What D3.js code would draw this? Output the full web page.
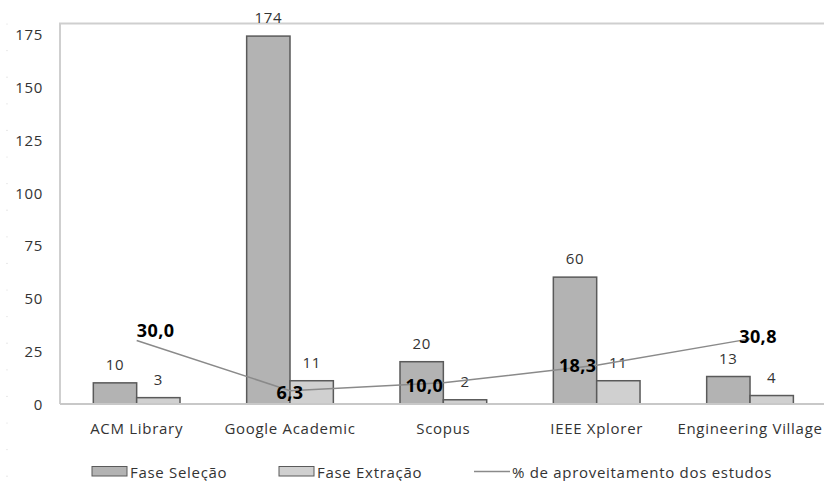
<!DOCTYPE html>
<html><head><meta charset="utf-8">
<script src="https://cdn.jsdelivr.net/npm/d3@7"></script>
<style>body{margin:0;background:#fff}svg{display:block}text{font-family:"Open Sans",sans-serif}.n{font-size:15px;letter-spacing:0.7px;fill:#333}</style>
</head><body>
<svg id="c" width="824" height="481"></svg>
<script>
const categories = ["ACM Library","Google Academic","Scopus","IEEE Xplorer","Engineering Village"];
const faseSelecao = [10,174,20,60,13];
const faseExtracao = [3,11,2,11,4];
const aproveitamento = [30.0,6.3,10.0,18.3,30.8];
const yTicks = [0,25,50,75,100,125,150,175];
const seriesNames = ["Fase Seleção","Fase Extração","% de aproveitamento dos estudos"];
// manual label placement (dx, dy) relative to line points
const labelOffsets = [[19,-11],[0,1],[-19,2],[-19,0],[8,-3]];

const svg = d3.select("#c");
const x = d3.scaleBand().domain(categories).range([60, 826.7]).paddingInner(0.4346).paddingOuter(0.2173);
const xs = d3.scaleBand().domain(["sel","ext"]).range([0, x.bandwidth()]);
const y = d3.scaleLinear().domain([0,180]).range([404, 23.4]);

// decorative dots at far left
svg.append("g").selectAll("circle").data(d3.range(18)).join("circle")
  .attr("cx",7).attr("cy",d=>24+26.6*d).attr("r",0.6).attr("fill","#d8d8d8");

// plot border (left + top)
svg.append("path").attr("d",`M60,404V${y(180)}H824`).attr("fill","none").attr("stroke","#cfcfcf").attr("stroke-width",2);

// y tick labels
svg.append("g").selectAll("text").data(yTicks).join("text").attr("class","n")
  .attr("x",43).attr("y",d=>y(d)).attr("text-anchor","end").attr("dominant-baseline","central")
  .text(d=>d);

// bars
const g = svg.append("g");
const bars = [{key:"sel",vals:faseSelecao,fill:"#b3b3b3"},{key:"ext",vals:faseExtracao,fill:"#d0d0d0"}];
bars.forEach(s=>{
  g.append("g").selectAll("rect").data(categories).join("rect")
    .attr("x",(c)=>x(c)+xs(s.key)).attr("y",(c,i)=>y(s.vals[i]))
    .attr("width",xs.bandwidth()).attr("height",(c,i)=>y(0)-y(s.vals[i]))
    .attr("fill",s.fill).attr("stroke","#5a5a5a").attr("stroke-width",1.5);
  g.append("g").selectAll("text").data(categories).join("text").attr("class","n")
    .attr("x",(c)=>x(c)+xs(s.key)+xs.bandwidth()/2).attr("y",(c,i)=>y(s.vals[i])-19)
    .attr("text-anchor","middle").attr("dominant-baseline","central")
    .text((c,i)=>s.vals[i]);
});

// x axis line
svg.append("line").attr("x1",60).attr("x2",824).attr("y1",y(0)).attr("y2",y(0)).attr("stroke","#c8c8c8").attr("stroke-width",2);

// category labels
svg.append("g").selectAll("text").data(categories).join("text").attr("class","n")
  .attr("x",c=>x(c)+x.bandwidth()/2).attr("y",428).attr("text-anchor","middle").attr("dominant-baseline","central")
  .text(c=>c);

// line
const cx = c=>x(c)+x.bandwidth()/2;
const line = d3.line().x((d,i)=>cx(categories[i])).y(d=>y(d));
svg.append("path").attr("d",line(aproveitamento)).attr("fill","none").attr("stroke","#8a8a8a").attr("stroke-width",1.5);
svg.append("g").selectAll("text").data(aproveitamento).join("text")
  .attr("x",(d,i)=>cx(categories[i])+labelOffsets[i][0]).attr("y",(d,i)=>y(d)+labelOffsets[i][1])
  .attr("text-anchor","middle").attr("dominant-baseline","central")
  .attr("font-size",18).attr("font-weight","bold").attr("letter-spacing","0.4px").attr("fill","#000")
  .text(d=>d.toFixed(1).replace(".",","));

// legend
const lg = svg.append("g");
lg.append("rect").attr("x",92).attr("y",466.5).attr("width",35).attr("height",9.5).attr("fill","#b3b3b3").attr("stroke","#5a5a5a").attr("stroke-width",1);
lg.append("text").attr("class","n").attr("x",130).attr("y",471.5).attr("dominant-baseline","central").text(seriesNames[0]);
lg.append("rect").attr("x",279).attr("y",466.5).attr("width",35).attr("height",9.5).attr("fill","#d0d0d0").attr("stroke","#5a5a5a").attr("stroke-width",1);
lg.append("text").attr("class","n").attr("x",317).attr("y",471.5).attr("dominant-baseline","central").text(seriesNames[1]);
lg.append("line").attr("x1",474).attr("x2",510).attr("y1",471.5).attr("y2",471.5).attr("stroke","#8a8a8a").attr("stroke-width",1.5);
lg.append("text").attr("class","n").attr("x",512).attr("y",471.5).attr("dominant-baseline","central").text(seriesNames[2]);
</script>
</body></html>
